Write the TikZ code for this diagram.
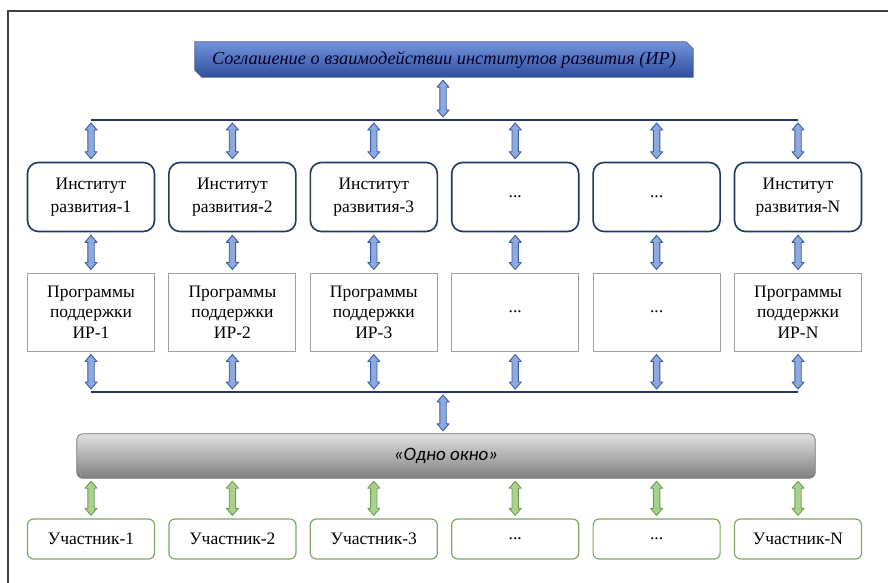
\documentclass[tikz,border=0pt]{standalone}
\usepackage{fontspec}
\setmainfont{Liberation Serif}
\newfontfamily\calib{Carlito}
\usetikzlibrary{calc}
\definecolor{navy}{HTML}{1F3864}
\definecolor{arrblue}{HTML}{8EA9DB}
\definecolor{arrbluedk}{HTML}{3A5BA8}
\definecolor{arrgreen}{HTML}{A9D18E}
\definecolor{arrgreendk}{HTML}{6E9E4C}
\definecolor{bantop}{HTML}{7393DC}
\definecolor{banbot}{HTML}{2E4E9E}
\definecolor{boxgray}{HTML}{A0A0A0}
\definecolor{boxgreen}{HTML}{7FA863}
\tikzset{
  dblarrow/.style={to path={let \p1=(\tikztostart), \p2=(\tikztotarget) in
    (\x1,\y1-3pt) -- (\x1+6pt,\y1-10pt) -- (\x1+3.2pt,\y1-10pt) -- (\x1+3.2pt,\y2+10pt)
    -- (\x1+6pt,\y2+10pt) -- (\x1,\y2+3pt) -- (\x1-6pt,\y2+10pt) -- (\x1-3.2pt,\y2+10pt)
    -- (\x1-3.2pt,\y1-10pt) -- (\x1-6pt,\y1-10pt) -- cycle}},
  bluearr/.style={dblarrow, fill=arrblue, draw=arrbluedk, line width=0.9pt, line join=round},
  greenarr/.style={dblarrow, fill=arrgreen, draw=arrgreendk, line width=0.9pt, line join=round},
  inst/.style={draw=navy, line width=1.6pt, rounded corners=11pt, minimum width=127pt,
    minimum height=69pt, align=center, font=\fontsize{17.5}{23}\selectfont, inner sep=0pt},
  prog/.style={draw=boxgray, line width=1pt, minimum width=127pt, minimum height=78pt,
    align=center, font=\fontsize{17.5}{20.5}\selectfont, inner sep=0pt},
  part/.style={draw=boxgreen, line width=1.2pt, rounded corners=6pt, minimum width=127pt,
    minimum height=40pt, align=center, font=\fontsize{17.5}{20}\selectfont, inner sep=0pt},
  hline/.style={draw=navy, line width=1.4pt},
}
\begin{document}
\begin{tikzpicture}[x=1pt,y=-1pt]
\useasboundingbox (0,0) rectangle (888,583);
% frame (top and left edges)
\draw[line width=1.2pt, draw=black!75] (8,583) -- (8,11) -- (888,11);

% banner
\node[minimum width=498pt, minimum height=35pt, inner sep=0pt] (ban) at (444,59.5) {};
\shade[top color=bantop, bottom color=banbot, draw=navy!80, line width=0.8pt]
  (ban.north west) -- ($(ban.north east)+(-7,0)$) -- ($(ban.north east)+(0,7)$)
  -- (ban.south east) -- ($(ban.south west)+(7,0)$) -- ($(ban.south west)+(0,-7)$) -- cycle;
\node[font=\fontsize{18.3}{20}\selectfont\itshape, text=black!85!blue] at (ban.center)
  {Соглашение о взаимодействии институтов развития (ИР)};

% top distribution line
\coordinate (t1) at (91,120);
\coordinate (t2) at (232.4,120);
\coordinate (t3) at (373.8,120);
\coordinate (t4) at (515.2,120);
\coordinate (t5) at (656.6,120);
\coordinate (t6) at (798,120);
\coordinate (tm) at (443,120);
\draw[hline] (t1) -- (t6);
\draw[bluearr] (ban.south -| tm) to (tm);

% institutes
\node[inst] (i1) at (91,197) {Институт\\развития-1};
\node[inst] (i2) at (232.4,197) {Институт\\развития-2};
\node[inst] (i3) at (373.8,197) {Институт\\развития-3};
\node[inst] (i4) at (515.2,197) {...};
\node[inst] (i5) at (656.6,197) {...};
\node[inst] (i6) at (798,197) {Институт\\развития-N};

% programmes
\node[prog] (p1) at (91,312) {Программы\\поддержки\\ИР-1};
\node[prog] (p2) at (232.4,312) {Программы\\поддержки\\ИР-2};
\node[prog] (p3) at (373.8,312) {Программы\\поддержки\\ИР-3};
\node[prog] (p4) at (515.2,312) {...};
\node[prog] (p5) at (656.6,312) {...};
\node[prog] (p6) at (798,312) {Программы\\поддержки\\ИР-N};

% lower collection line
\coordinate (b1) at (91,392);
\coordinate (b2) at (232.4,392);
\coordinate (b3) at (373.8,392);
\coordinate (b4) at (515.2,392);
\coordinate (b5) at (656.6,392);
\coordinate (b6) at (798,392);
\coordinate (bm) at (443,392);
\draw[hline] (b1) -- (b6);

% one window bar
\node[minimum width=738pt, minimum height=44pt, inner sep=0pt] (win) at (446,456) {};
\shade[top color=black!12, bottom color=black!50, draw=black!55, line width=0.8pt, rounded corners=6pt]
  (win.north west) rectangle (win.south east);
\node[font=\calib\fontsize{19}{22}\selectfont\itshape] at (win.center) {«Одно окно»};
\draw[bluearr] (bm) to (win.north -| bm);

% participants
\node[part] (u1) at (91,539) {Участник-1};
\node[part] (u2) at (232.4,539) {Участник-2};
\node[part] (u3) at (373.8,539) {Участник-3};
\node[part] (u4) at (515.2,539) {...};
\node[part] (u5) at (656.6,539) {...};
\node[part] (u6) at (798,539) {Участник-N};

\foreach \i in {1,...,6}{
  \draw[bluearr] (t\i) to (i\i.north);
  \draw[bluearr] (i\i.south) to (p\i.north);
  \draw[bluearr] (p\i.south) to (b\i);
  \draw[greenarr] (win.south -| u\i) to (u\i.north);
}
\end{tikzpicture}
\end{document}
